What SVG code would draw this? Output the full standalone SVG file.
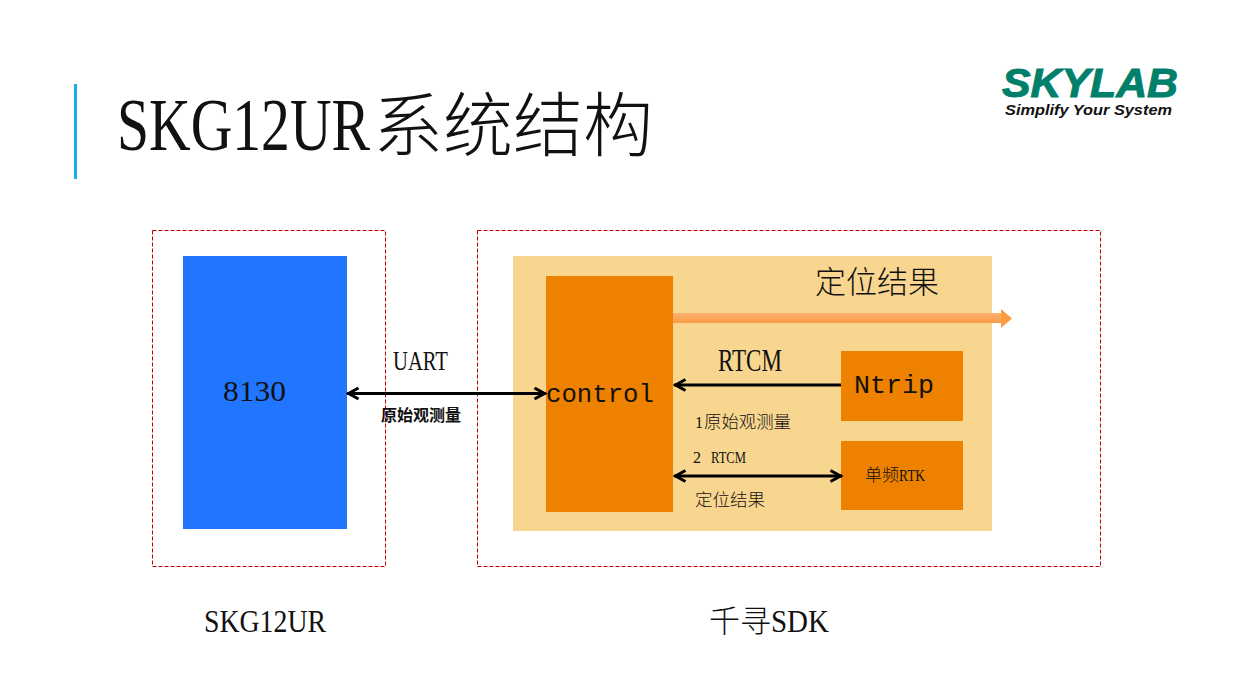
<svg xmlns="http://www.w3.org/2000/svg" width="1239" height="696" viewBox="0 0 1239 696">
<style>
text{font-family:"Liberation Serif","Noto Sans CJK SC",serif;fill:#111}
.cjk{font-family:"Noto Sans CJK SC","Liberation Serif",serif;font-weight:300}
.mono{font-family:"Liberation Mono","Noto Sans CJK SC",monospace}
.dash{fill:none;stroke:#c00000;stroke-width:1;stroke-dasharray:4 2}
.org{fill:#ee8200}
.conn{fill:none;stroke:#000;stroke-width:3}
</style>
<defs>
<marker id="ah" viewBox="0 0 16 14" refX="14.500" refY="7" markerUnits="userSpaceOnUse" markerWidth="16" markerHeight="14" orient="auto-start-reverse"><path d="M3 1.500L13 7L3 12.500" fill="none" stroke="#000" stroke-width="3"/></marker>
<linearGradient id="gr" x1="0" y1="0" x2="0" y2="1"><stop offset="0" stop-color="#fcb272"/><stop offset="1" stop-color="#fb9c44"/></linearGradient>
</defs>
<rect width="1239" height="696" fill="#fff"/>
<g id="header">
<rect x="74" y="84" width="3" height="95" fill="#1aaee5"/>
<text y="150" font-size="74"><tspan x="117" textLength="253" lengthAdjust="spacingAndGlyphs">SKG12UR</tspan><tspan class="cjk" x="373" font-size="70" dy="1">系统结构</tspan></text>
</g>
<g id="logo">
<text x="1002" y="97" font-size="40" font-weight="700" font-style="italic" textLength="176" lengthAdjust="spacingAndGlyphs" style="font-family:'Liberation Sans',sans-serif;fill:#00806a;stroke:#00806a;stroke-width:1">SKYLAB</text>
<text x="1005" y="115" font-size="15" font-weight="700" font-style="italic" textLength="167" lengthAdjust="spacingAndGlyphs" style="font-family:'Liberation Sans',sans-serif;fill:#111">Simplify Your System</text>
</g>
<g id="skg12ur-box">
<rect class="dash" x="152.500" y="230.500" width="233" height="336"/>
<text x="204" y="632" font-size="32" textLength="122" lengthAdjust="spacingAndGlyphs">SKG12UR</text>
</g>
<g id="node-8130">
<rect x="183" y="256" width="164" height="273" fill="#2176ff"/>
<text x="223" y="401" font-size="30" textLength="63" lengthAdjust="spacingAndGlyphs">8130</text>
</g>
<g id="sdk-box">
<rect class="dash" x="477.500" y="230.500" width="623" height="336"/>
<text y="632" font-size="32"><tspan class="cjk" x="709" font-size="31">千寻</tspan><tspan x="771" textLength="58" lengthAdjust="spacingAndGlyphs">SDK</tspan></text>
</g>
<g id="sdk-panel">
<rect x="513" y="256" width="479" height="275" fill="#f8d68f"/>
<text class="cjk" x="815" y="293" font-size="31">定位结果</text>
</g>
<g id="node-control">
<rect class="org" x="546" y="276" width="127" height="236"/>
<text class="mono" x="546" y="402" font-size="25.700">control</text>
</g>
<g id="node-ntrip">
<rect class="org" x="841" y="351" width="122" height="70"/>
<text class="mono" x="854" y="393" font-size="26.700">Ntrip</text>
</g>
<g id="node-rtk">
<rect class="org" x="841" y="441" width="122" height="69"/>
<text y="481" font-size="17"><tspan class="cjk" x="865">单频</tspan><tspan x="899" textLength="26" lengthAdjust="spacingAndGlyphs">RTK</tspan></text>
</g>
<g id="connectors">
<rect x="673" y="313" width="329" height="10" fill="url(#gr)"/>
<path d="M1001 309L1012 318.500L1001 328Z" fill="#fb9c44"/>
<path class="conn" d="M841 385H674" marker-end="url(#ah)"/>
<path class="conn" d="M674 476H842" marker-start="url(#ah)" marker-end="url(#ah)"/>
<path class="conn" d="M347 393.500H546" marker-start="url(#ah)" marker-end="url(#ah)"/>
</g>
<g id="labels">
<text x="393" y="370" font-size="27" textLength="55" lengthAdjust="spacingAndGlyphs">UART</text>
<text class="cjk" x="381" y="421" font-size="16" style="font-weight:700">原始观测量</text>
<text x="718" y="371" font-size="32" textLength="64" lengthAdjust="spacingAndGlyphs">RTCM</text>
<text y="428" font-size="17.400"><tspan x="695" font-size="16">1</tspan><tspan class="cjk" x="704">原始观测量</tspan></text>
<text y="463" font-size="16"><tspan x="693">2</tspan><tspan x="711" textLength="35" lengthAdjust="spacingAndGlyphs">RTCM</tspan></text>
<text class="cjk" x="695" y="506" font-size="17.500">定位结果</text>
</g>
</svg>
